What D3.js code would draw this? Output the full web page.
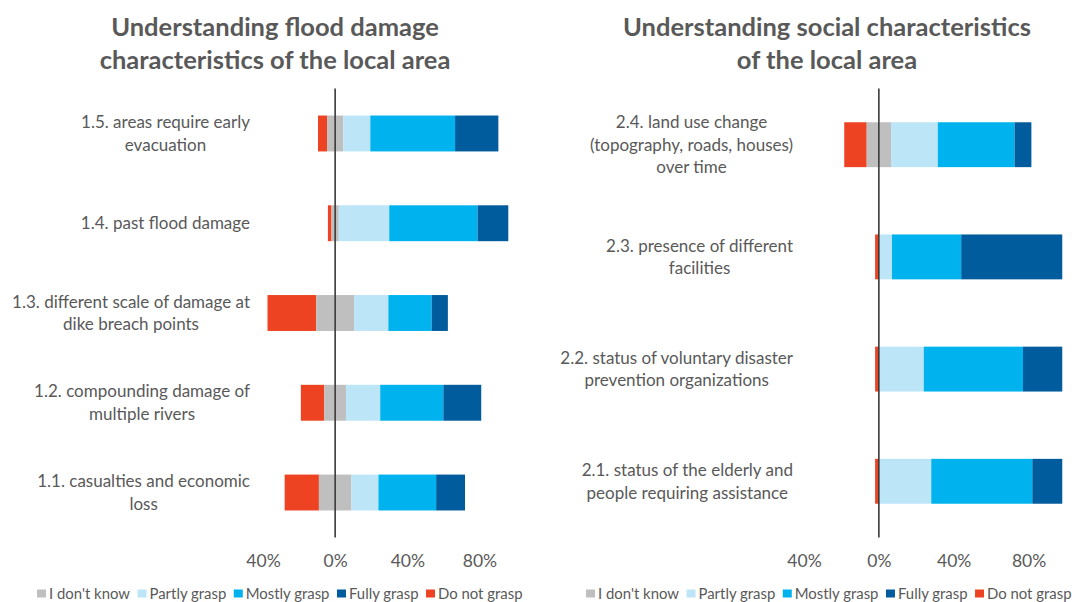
<!DOCTYPE html>
<html>
<head>
<meta charset="utf-8">
<script src="https://cdn.jsdelivr.net/npm/d3@7"></script>
<style>
  html, body { margin: 0; padding: 0; background: #fff; }
  svg { display: block; }
  text { font-family: Lato, "Open Sans", sans-serif; fill: #595959; }
</style>
</head>
<body>
<svg id="chart" width="1077" height="602"></svg>
<script>
// Response categories, in stacking order (left to right)
const seriesKeys = ["notGrasp", "dontKnow", "partly", "mostly", "fully"];
const seriesNames = ["Do not grasp", "I don't know", "Partly grasp", "Mostly grasp", "Fully grasp"];
const seriesColors = ["#EE4322", "#BFBFBF", "#BDE5F8", "#00B2EE", "#005C9C"];
const legendOrder = ["dontKnow", "partly", "mostly", "fully", "notGrasp"];

// Panel 1: flood damage characteristics (top to bottom)
const floodItems = [
  ["1.5. areas require early", "evacuation"],
  ["1.4. past flood damage"],
  ["1.3. different scale of damage at", "dike breach points"],
  ["1.2. compounding damage of", "multiple rivers"],
  ["1.1. casualties and economic", "loss"]
];
const floodNotGrasp = [5, 2, 27, 13, 19];
const floodDontKnow = [9, 4, 21, 12, 18];
const floodPartly   = [15, 28, 19, 19, 15];
const floodMostly   = [47, 49, 24, 35, 32];
const floodFully    = [24, 17, 9, 21, 16];

// Panel 2: social characteristics (top to bottom)
const socialItems = [
  ["2.4. land use change", "(topography, roads, houses)", "over time"],
  ["2.3. presence of different", "facilities"],
  ["2.2. status of voluntary disaster", "prevention organizations"],
  ["2.1. status of the elderly and", "people requiring assistance"]
];
const socialNotGrasp = [12, 2, 2, 2];
const socialDontKnow = [13, 0, 0, 0];
const socialPartly   = [25, 7, 24, 28];
const socialMostly   = [41, 37, 53, 54];
const socialFully    = [9, 54, 21, 16];

// Axis ticks (negative side shown without sign)
const tickValues = [-40, 0, 40, 80];

const svg = d3.select("#chart");

function buildRows(items, a, b, c, d, e) {
  return items.map((lines, i) => ({
    id: "r" + i, lines,
    notGrasp: a[i], dontKnow: b[i], partly: c[i], mostly: d[i], fully: e[i]
  }));
}

function drawPanel(cfg) {
  const g = svg.append("g");
  const x = d3.scaleLinear().domain([-40, 100]).range([cfg.x0, cfg.x1]);
  const y = d3.scaleBand().domain(cfg.rows.map(r => r.id))
    .range([88.6, 537.4]).paddingInner(0.6).paddingOuter(0.3);

  // Title
  const title = g.append("text")
    .attr("x", cfg.titleX).attr("text-anchor", "middle")
    .style("font-weight", "bold").style("font-size", "25.5px");
  cfg.title.forEach((t, i) => {
    title.append("tspan").attr("x", cfg.titleX).attr("y", 36 + i * 33).text(t);
  });

  // Stacked segments, the neutral answer centred on zero
  cfg.rows.forEach(r => {
    let start = -(r.notGrasp + r.dontKnow / 2);
    seriesKeys.forEach((k, si) => {
      const v = r[k];
      if (v > 0) {
        g.append("rect")
          .attr("x", x(start))
          .attr("y", y(r.id))
          .attr("width", x(start + v) - x(start))
          .attr("height", y.bandwidth())
          .attr("fill", seriesColors[si]);
      }
      start += v;
    });
  });

  // Zero line
  g.append("line")
    .attr("x1", x(0)).attr("x2", x(0))
    .attr("y1", 88.6).attr("y2", 537.4)
    .attr("stroke", "#3a3a3a").attr("stroke-width", 1.6);

  // Category labels: lines centred within a right-aligned block
  cfg.rows.forEach(r => {
    const lg = g.append("g");
    const lh = 22.5;
    const cy = y(r.id) + y.bandwidth() / 2;
    const top = cy - (r.lines.length - 1) * lh / 2;
    const ts = r.lines.map((t, i) => lg.append("text")
      .attr("y", top + i * lh).attr("dy", "0.35em")
      .attr("text-anchor", "middle").style("font-size", "17px").text(t));
    const widths = ts.map(t => t.node().getComputedTextLength());
    const w = d3.max(widths);
    ts.forEach(t => t.attr("x", cfg.labelRight - w / 2));
  });

  // Value axis labels
  const axis = d3.axisBottom(x).tickValues(tickValues)
    .tickFormat(v => Math.abs(v) + "%").tickSize(0).tickPadding(0);
  const ag = g.append("g").attr("transform", "translate(0,555)").call(axis);
  ag.select(".domain").remove();
  ag.selectAll("text").style("font-size", "17.5px").style("font-family", "Lato, sans-serif")
    .attr("fill", "#595959");

  // Legend
  let lx = cfg.legendX;
  legendOrder.forEach(k => {
    const si = seriesKeys.indexOf(k);
    g.append("rect").attr("x", lx).attr("y", 589.5).attr("width", 9).attr("height", 8)
      .attr("fill", seriesColors[si]);
    const t = g.append("text").attr("x", lx + 12).attr("y", 598.5)
      .style("font-size", "14.9px").text(seriesNames[si]);
    lx += 12 + t.node().getComputedTextLength() + 7.5;
  });
}

drawPanel({
  rows: buildRows(floodItems, floodNotGrasp, floodDontKnow, floodPartly, floodMostly, floodFully),
  title: ["Understanding flood damage", "characteristics of the local area"],
  titleX: 275, x0: 263, x1: 515.5, labelRight: 250, legendX: 37
});
drawPanel({
  rows: buildRows(socialItems, socialNotGrasp, socialDontKnow, socialPartly, socialMostly, socialFully),
  title: ["Understanding social characteristics", "of the local area"],
  titleX: 827, x0: 804, x1: 1066, labelRight: 793, legendX: 586
});
</script>
</body>
</html>
